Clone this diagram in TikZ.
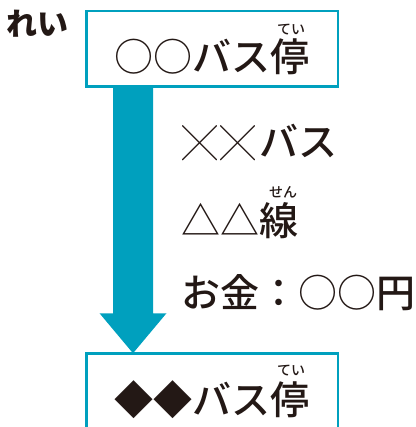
\documentclass[tikz,border=0pt]{standalone}
\usepackage{fontspec}
\newfontfamily\jpfont{Noto Sans CJK JP Medium}
\newfontfamily\jpthin{Noto Sans CJK JP}
\usetikzlibrary{positioning,calc}
\definecolor{busteal}{RGB}{0,160,190}
\definecolor{ink}{RGB}{35,24,21}

\begin{document}
\begin{tikzpicture}[x=1pt, y=-1pt,
    every node/.style={inner sep=0pt, outer sep=0pt, text=ink, font=\jpfont},
    stopbox/.style={draw=busteal, line width=2.5pt, minimum width=251.5pt, minimum height=75.5pt}, % bus stop sign
    bigtext/.style={font=\jpfont\fontsize{39}{40}\selectfont, anchor=base},
    rubytext/.style={font=\jpfont\fontsize{14}{15}\selectfont, anchor=base},
  ]
  \useasboundingbox (0,0) rectangle (415,427);

  \node (rei)    [anchor=base west, font=\jpthin\bfseries\fontsize{31}{32}\selectfont] at (6,36) {れい};

  \node (stopA)  [stopbox] at (212,49) {};
  \node (nameA)  [bigtext] at (212,72) {{\jpthin ○○}バス停};
  \node (rubyA)  [rubytext] at (291,35) {てい};

  \node (stopB)  [stopbox] at (212,391) {};
  \node (nameB)  [bigtext] at (212,414) {◆◆バス停};
  \node (rubyB)  [rubytext] at (291,375) {てい};

  \node (busline) [bigtext, anchor=base west] at (182,157) {{\jpthin\fontsize{35}{35}\selectfont ╳\kern4pt╳}\kern3pt バス};
  \node (route)   [bigtext, anchor=base west] at (181,235) {{\jpthin △△}線};
  \node (rubyC)   [rubytext] at (283,197) {せん};
  \node (fare)    [bigtext, anchor=base west] at (181,307) {お金：{\jpthin ○○}円};

  % big arrow from one stop to the next
  \coordinate (arrtop) at ($(stopA.south west)+(46.75,0)$);
  \coordinate (arrtip) at (arrtop |- stopB.north);
  \fill[busteal] ($(arrtop)+(-20,0)$) -- ($(arrtop)+(20,0)$) -- ($(arrtip)+(20,-40)$)
    -- ($(arrtip)+(33.5,-40)$) -- (arrtip) -- ($(arrtip)+(-33.5,-40)$) -- ($(arrtip)+(-20,-40)$) -- cycle;
\end{tikzpicture}
\end{document}
